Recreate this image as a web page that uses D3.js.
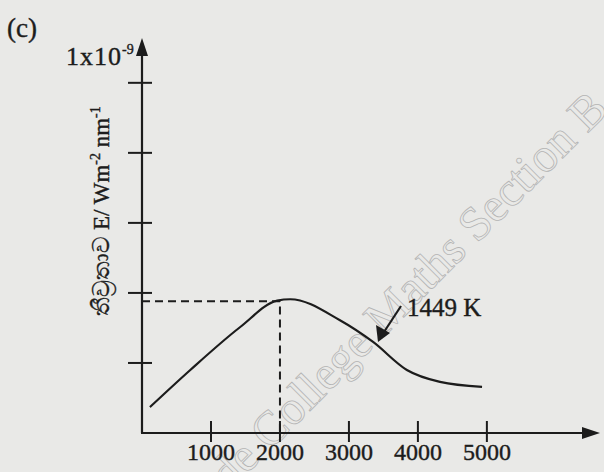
<!DOCTYPE html>
<html>
<head>
<meta charset="utf-8">
<script src="https://cdn.jsdelivr.net/npm/d3@7"></script>
<style>
  body { margin: 0; background: #e9e9e7; }
  svg { display: block; font-family: "Liberation Serif", "DejaVu Serif", serif; }
</style>
</head>
<body>
<svg id="chart" width="604" height="472"></svg>
<script>
// wavelength (nm) and energy (arbitrary tick units)
var wavelengths = [115, 700, 1420, 1960, 2150, 2870, 3350, 3840, 4320, 4930];
var energy = [0.37, 0.90, 1.51, 1.89, 1.91, 1.61, 1.30, 0.90, 0.73, 0.66];
var xTicks = [1000, 2000, 3000, 4000, 5000];
var yTicks = [1, 2, 3, 4, 5];
var peakX = 2000, peakY = 1.88;

var ink = "#1c1c1c";
var svg = d3.select("#chart");

var x = d3.scaleLinear().domain([0, 6640]).range([142, 600]);
var y = d3.scaleLinear().domain([0, 5.64]).range([433, 38]);

// faint watermark (behind everything)
svg.append("text")
  .attr("transform", "translate(229,492) rotate(-45)")
  .attr("font-size", 48)
  .attr("fill", "none")
  .attr("stroke", "#b4b4b4")
  .attr("stroke-width", 0.8)
  .text("de College Maths Section B");

// axes lines
svg.append("line")
  .attr("x1", x(0)).attr("y1", y(0)).attr("x2", x(0)).attr("y2", y(5.64) + 14)
  .attr("stroke", ink).attr("stroke-width", 2.2);
svg.append("line")
  .attr("x1", x(0) - 1).attr("y1", y(0)).attr("x2", x(6640) - 16).attr("y2", y(0))
  .attr("stroke", ink).attr("stroke-width", 2.2);

// arrow heads
svg.append("path")
  .attr("d", "M" + x(0) + "," + y(5.64) + " l-6,18 l12,0 z")
  .attr("fill", ink);
svg.append("path")
  .attr("d", "M" + x(6640) + "," + y(0) + " l-18,-6 l0,12 z")
  .attr("fill", ink);

// y ticks (cross the axis)
svg.selectAll("line.ytick").data(yTicks).enter().append("line")
  .attr("class", "ytick")
  .attr("x1", x(0) - 14).attr("x2", x(0) + 10)
  .attr("y1", function(d) { return y(d); })
  .attr("y2", function(d) { return y(d); })
  .attr("stroke", ink).attr("stroke-width", 2);

// x ticks
svg.selectAll("line.xtick").data(xTicks).enter().append("line")
  .attr("class", "xtick")
  .attr("x1", function(d) { return x(d); })
  .attr("x2", function(d) { return x(d); })
  .attr("y1", y(0) - 12).attr("y2", y(0) + 9)
  .attr("stroke", ink).attr("stroke-width", 2);

svg.selectAll("text.xlab").data(xTicks).enter().append("text")
  .attr("class", "xlab")
  .attr("x", function(d) { return x(d); })
  .attr("y", 460)
  .attr("text-anchor", "middle")
  .attr("font-size", 24)
  .attr("fill", ink).attr("stroke", ink).attr("stroke-width", 0.4)
  .text(function(d) { return d; });

// dashed guides to the peak
svg.append("path")
  .attr("d", "M" + x(0) + "," + y(peakY) + " H" + x(peakX) + " V" + y(0))
  .attr("fill", "none").attr("stroke", ink).attr("stroke-width", 2)
  .attr("stroke-dasharray", "8,5");

// curve
var line = d3.line()
  .x(function(d, i) { return x(wavelengths[i]); })
  .y(function(d) { return y(d); })
  .curve(d3.curveMonotoneX);
svg.append("path")
  .datum(energy)
  .attr("d", line)
  .attr("fill", "none").attr("stroke", ink).attr("stroke-width", 2.2);

// annotation arrow
svg.append("line")
  .attr("x1", 401).attr("y1", 306).attr("x2", 384).attr("y2", 332)
  .attr("stroke", ink).attr("stroke-width", 2.2);
svg.append("path")
  .attr("d", "M378,342 L376,325 L390,333 z")
  .attr("fill", ink);
svg.append("text")
  .attr("x", 407).attr("y", 316)
  .attr("font-size", 25)
  .attr("fill", ink).attr("stroke", ink).attr("stroke-width", 0.4)
  .text("1449 K");

// y axis label
var ylab = svg.append("text")
  .attr("transform", "translate(109,211) rotate(-90)")
  .attr("text-anchor", "middle")
  .attr("font-size", 23)
  .attr("fill", ink).attr("stroke", ink).attr("stroke-width", 0.4);
ylab.append("tspan").text("තීව්‍රතාව  E/ Wm");
ylab.append("tspan").attr("dy", -9).attr("font-size", 14).text("-2");
ylab.append("tspan").attr("dy", 9).text(" nm");
ylab.append("tspan").attr("dy", -9).attr("font-size", 14).text("-1");

// scale note at top of y axis
var sc = svg.append("text")
  .attr("x", 66).attr("y", 65)
  .attr("font-size", 26)
  .attr("fill", ink).attr("stroke", ink).attr("stroke-width", 0.4);
sc.append("tspan").attr("letter-spacing", 1).text("1x10");
sc.append("tspan").attr("dy", -11).attr("font-size", 14).text("-9");

svg.append("text")
  .attr("x", 7).attr("y", 37)
  .attr("font-size", 27)
  .attr("fill", ink).attr("stroke", ink).attr("stroke-width", 0.4)
  .text("(c)");
</script>
</body>
</html>
